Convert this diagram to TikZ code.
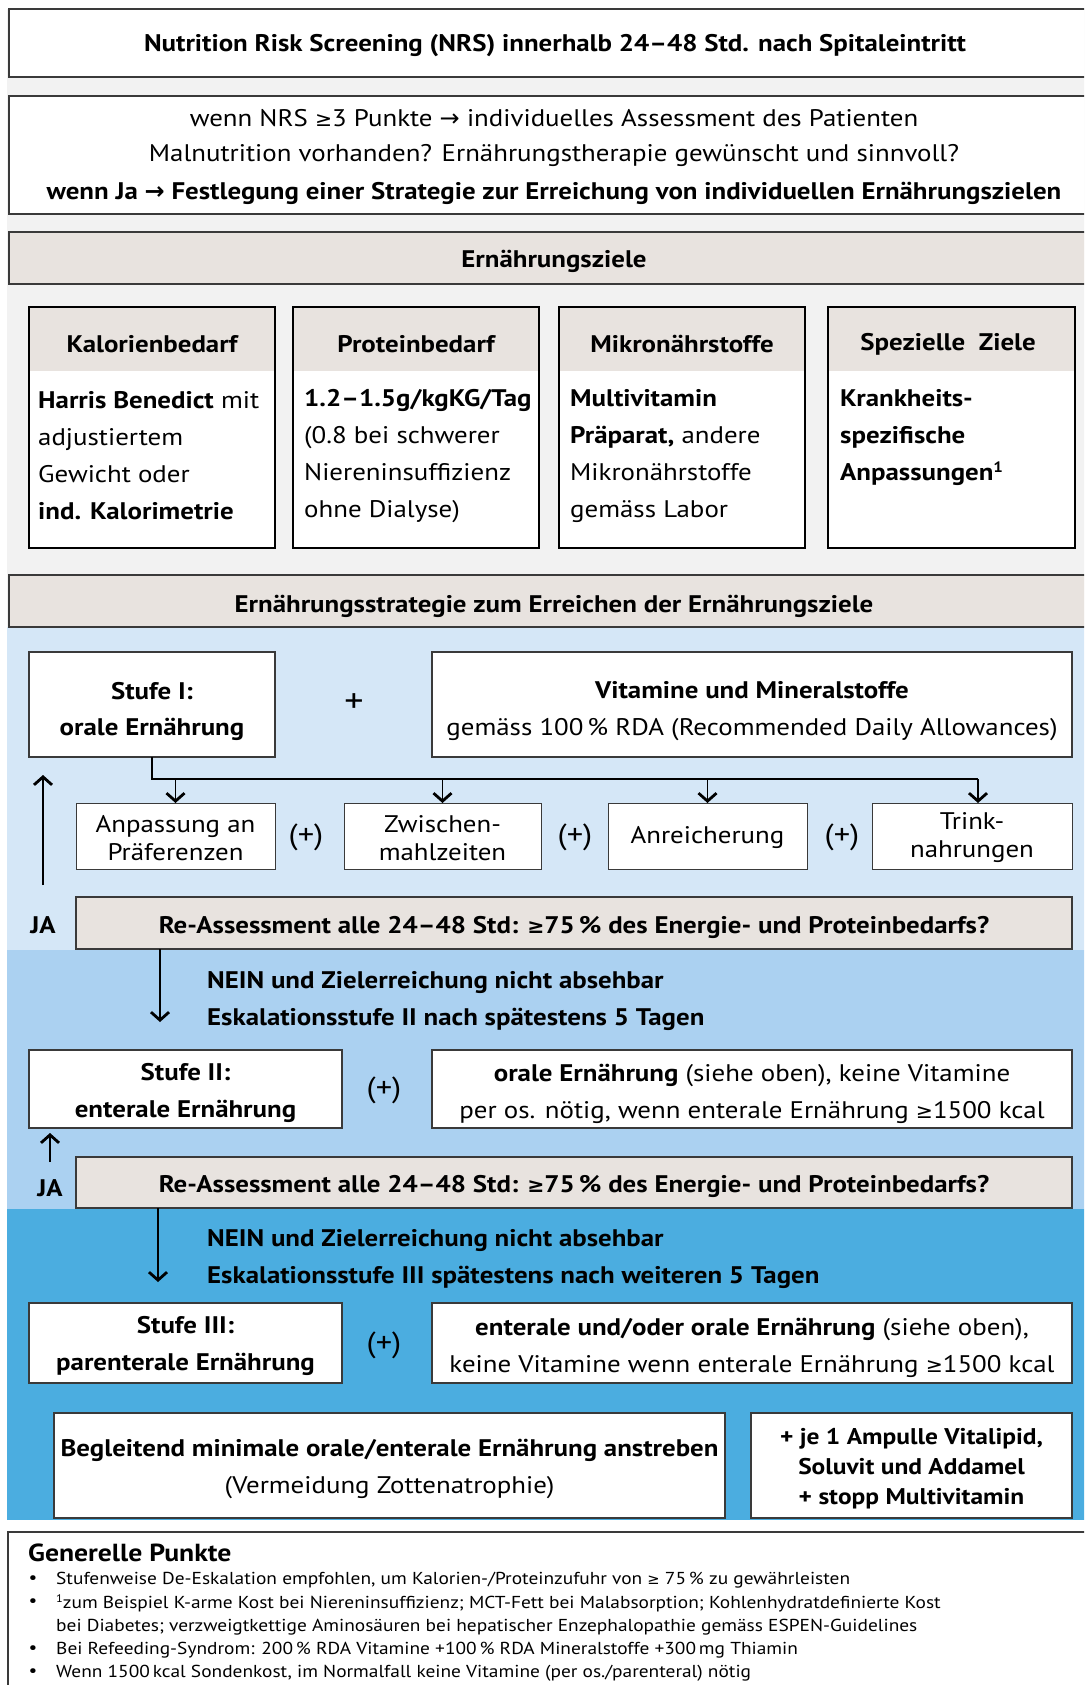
\documentclass[tikz,border=0pt]{standalone}
\usepackage{fontspec}
\setmainfont{PT Sans}[FakeStretch=1.12]
\newfontfamily\symf{DejaVu Sans}
\usetikzlibrary{arrows.meta,calc}
\definecolor{bg}{HTML}{F2F2F2}
\definecolor{hd}{HTML}{E8E3DF}
\definecolor{blA}{HTML}{D5E7F7}
\definecolor{blB}{HTML}{ABD1F1}
\definecolor{blC}{HTML}{4BADE0}
\definecolor{edge}{HTML}{3A3A3A}
\newcommand\mygeq{{\symf\fontsize{0.85em}{1em}\selectfont ≥}}
\newcommand\myarr{{\symf →}}
\newcommand\fm{\fontsize{24}{37}\selectfont}
\newcommand\fs{\fontsize{24}{28}\selectfont}
\newcommand\ff{\fontsize{17.3}{23}\selectfont}
\newcommand\fp{\fontsize{29}{30}\selectfont}
\newcommand\supone{\raisebox{8pt}{\fontsize{15}{15}\selectfont\bfseries 1}}
\newcommand\rbox[6][]{\node[anchor=north west, inner sep=0pt, outer sep=0pt,
  minimum width={(#5-#3)*1pt}, minimum height={(#6-#4)*1pt}, #1] (#2) at (#3,#4) {};}
\begin{document}
\begin{tikzpicture}[x=1pt,y=-1pt,
  bx/.style={draw=edge, line width=1.3pt, fill=white},
  hbx/.style={draw=edge, line width=1.3pt, fill=hd},
  gbx/.style={draw=black, line width=2.4pt, fill=white},
  sbx/.style={draw=edge, line width=1pt, fill=white},
  txt/.style={inner sep=0pt, font=\fm, align=center},
  ltxt/.style={inner sep=0pt, font=\fm, align=left, anchor=west},
  stxt/.style={inner sep=0pt, font=\fs, align=center},
  ftxt/.style={inner sep=0pt, font=\ff, align=left, anchor=west},
  arr/.style={line width=1.6pt, -{Straight Barb[length=8pt,width=18pt,line width=2.8pt]}}]
\useasboundingbox (0,0) rectangle (1084,1685);
\clip (0,0) rectangle (1084,1685);
% backgrounds
\fill[bg] (7,9) rectangle (1090,627);
\fill[blA] (7,627) rectangle (1090,950);
\fill[blB] (7,950) rectangle (1090,1209);
\fill[blC] (7,1209) rectangle (1090,1520);
% top
\rbox[bx]{top}{9}{9}{1095}{77}
\node[txt, font=\fm\bfseries] (topt) at (555,46) {Nutrition Risk Screening (NRS) innerhalb 24–48 Std. nach Spitaleintritt};
\rbox[bx]{nrs}{9}{96}{1095}{214}
\node[txt] (nrs1) at (554,118) {wenn NRS \mygeq3 Punkte \myarr\ individuelles Assessment des Patienten};
\node[txt] (nrs2) at (554,156) {Malnutrition vorhanden? Ernährungstherapie gewünscht und sinnvoll?};
\node[txt, font=\fm\bfseries] (nrs3) at (554,193) {wenn Ja {\symf\bfseries →} Festlegung einer Strategie zur Erreichung von individuellen Ernährungszielen};
\rbox[hbx]{zh}{9}{232}{1095}{284}
\node[txt, font=\fm\bfseries] (zht) at (554,261) {Ernährungsziele};
% goal boxes
\rbox[gbx]{g1}{29}{307}{275}{548}
\rbox[gbx]{g2}{293}{307}{539}{548}
\rbox[gbx]{g3}{559}{307}{805}{548}
\rbox[gbx]{g4}{828}{307}{1075}{548}
\foreach \a/\b in {29/275,293/539,559/805,828/1075}{
  \fill[hd] (\a+1.2,308.2) rectangle (\b-1.2,371);}
\node[txt, font=\fm\bfseries] (g1h) at (152,344) {Kalorienbedarf};
\node[txt, font=\fm\bfseries] (g2h) at (416,344) {Proteinbedarf};
\node[txt, font=\fm\bfseries] (g3h) at (682,344) {Mikronährstoffe};
\node[txt, font=\fm\bfseries] (g4h) at (948,344) {Spezielle\ \ Ziele};
\node[ltxt] (g1t) at (38,456) {\textbf{Harris Benedict} mit\\adjustiertem\\Gewicht oder\\\textbf{ind. Kalorimetrie}};
\node[ltxt] (g2t) at (304,456) {\textbf{1.2–1.5g/kgKG/Tag}\\(0.8 bei schwerer\\Niereninsuffizienz\\ohne Dialyse)};
\node[ltxt] (g3t) at (570,456) {\textbf{Multivitamin}\\\textbf{Präparat,} andere\\Mikronährstoffe\\gemäss Labor};
\node[ltxt] (g4t) at (840,438) {\textbf{Krankheits-}\\\textbf{spezifische}\\\textbf{Anpassungen}\supone};
% strategy
\rbox[hbx]{sh}{9}{575}{1095}{627}
\node[txt, font=\fm\bfseries] (sht) at (554,606) {Ernährungsstrategie zum Erreichen der Ernährungsziele};
\rbox[bx]{s1}{29}{652}{275}{757}
\node[txt, font=\fontsize{24}{36}\selectfont\bfseries] (s1t) at (152,711) {Stufe I:\\orale Ernährung};
\node[txt, font=\fontsize{34}{34}\selectfont] (p1) at (354,703) {+};
\rbox[bx]{vit}{432}{652}{1072}{757}
\node[txt, font=\fontsize{24}{37}\selectfont] (vitt) at (752,711) {\textbf{Vitamine und Mineralstoffe}\\gemäss 100\,\% RDA (Recommended Daily Allowances)};
% sub boxes
\rbox[sbx]{u1}{76}{803}{275}{869}
\rbox[sbx]{u2}{344}{803}{541}{869}
\rbox[sbx]{u3}{608}{803}{807}{869}
\rbox[sbx]{u4}{872}{803}{1072}{869}
\node[stxt] (u1t) at ($(u1)+(0,2)$) {Anpassung an\\Präferenzen};
\node[stxt] (u2t) at ($(u2)+(0,2)$) {Zwischen-\\mahlzeiten};
\node[stxt] (u3t) at ($(u3)+(0,2)$) {Anreicherung};
\node[stxt] (u4t) at ($(u4)+(0,2)$) {Trink-\\nahrungen};
\node[txt, font=\fp] (q1) at (306,837) {(+)};
\node[txt, font=\fp] (q2) at (575,837) {(+)};
\node[txt, font=\fp] (q3) at (842,837) {(+)};
\coordinate (busL) at (152,779);
\coordinate (busR) at (978,779);
\draw[line width=1.3pt] (s1.south-|busL) -- (busL) -- (busR);
\draw[arr] (u1.north|-busL) -- (u1.north);
\draw[arr] (u2.north|-busL) -- (u2.north);
\draw[arr] (u3.north|-busL) -- (u3.north);
\draw[arr] (busR) -- (busR|-u4.north);
% re-assessment 1
\rbox[hbx]{r1}{76}{897}{1072}{949}
\node[txt, font=\fm\bfseries] (r1t) at (574,927) {Re-Assessment alle 24–48 Std: \mygeq75\,\% des Energie- und Proteinbedarfs?};
\node[txt, font=\fm\bfseries] (ja1) at (43,925) {JA};
\coordinate (up1) at (43,775);
\draw[arr] (ja1.north|-r1.north) ++(0,-12) -- (up1);
% escalation II
\coordinate (d1) at (160,1022);
\draw[arr] (r1.south-|d1) -- (d1);
\node[ltxt, font=\fm\bfseries] (n1) at (207,1001) {NEIN und Zielerreichung nicht absehbar\\Eskalationsstufe II nach spätestens 5 Tagen};
\rbox[bx]{s2}{29}{1050}{342}{1128}
\node[txt, font=\fm\bfseries] (s2t) at ($(s2)+(0,4)$) {Stufe II:\\enterale Ernährung};
\node[txt, font=\fp] (p2) at (384,1090) {(+)};
\rbox[bx]{o2}{432}{1050}{1072}{1128}
\node[txt] (o2t) at (752,1094) {\textbf{orale Ernährung} (siehe oben), keine Vitamine\\per os. nötig, wenn enterale Ernährung \mygeq1500 kcal};
\rbox[hbx]{r2}{76}{1157}{1072}{1208}
\node[txt, font=\fm\bfseries] (r2t) at (574,1186) {Re-Assessment alle 24–48 Std: \mygeq75\,\% des Energie- und Proteinbedarfs?};
\node[txt, font=\fm\bfseries] (ja2) at (50,1188) {JA};
\coordinate (up2a) at (50,1162);
\coordinate (up2b) at (50,1133);
\draw[arr] (up2a) -- (up2b);
% escalation III
\coordinate (d2) at (158,1282);
\draw[arr] (r2.south-|d2) -- (d2);
\node[ltxt, font=\fm\bfseries] (n2) at (207,1259) {NEIN und Zielerreichung nicht absehbar\\Eskalationsstufe III spätestens nach weiteren 5 Tagen};
\rbox[bx]{s3}{29}{1303}{342}{1383}
\node[txt, font=\fm\bfseries] (s3t) at ($(s3)+(0,3)$) {Stufe III:\\parenterale Ernährung};
\node[txt, font=\fp] (p3) at (384,1345) {(+)};
\rbox[bx]{e3}{432}{1303}{1072}{1383}
\node[txt] (e3t) at (752,1348) {\textbf{enterale und/oder orale Ernährung} (siehe oben),\\keine Vitamine wenn enterale Ernährung \mygeq1500 kcal};
\rbox[bx]{bg3}{54}{1413}{725}{1518}
\node[txt] (bg3t) at ($(bg3)+(0,3)$) {\textbf{Begleitend minimale orale/enterale Ernährung anstreben}\\(Vermeidung Zottenatrophie)};
\rbox[bx]{am}{751}{1413}{1072}{1518}
\node[txt, font=\fontsize{22.7}{30}\selectfont\bfseries] (amt) at ($(am)+(0,3)$) {+ je 1 Ampulle Vitalipid,\\Soluvit und Addamel\\+ stopp Multivitamin};
% general points
\rbox[bx]{gp}{8}{1532}{1095}{1700}
\node[ltxt, font=\fontsize{24.7}{26}\selectfont\bfseries] (gpt) at (28,1553) {Generelle Punkte};
\foreach \yy [count=\i] in {1580,1603,1650,1673}{
  \node[inner sep=0pt, font=\ff] (bul\i) at (33,\yy) {•};}
\node[ftxt] (f1) at (56,1580) {Stufenweise De-Eskalation empfohlen, um Kalorien-/Proteinzufuhr von \mygeq\ 75\,\% zu gewährleisten};
\node[ftxt] (f2) at (56,1614.5) {{\raisebox{6pt}{\fontsize{11}{11}\selectfont 1}}zum Beispiel K-arme Kost bei Niereninsuffizienz; MCT-Fett bei Malabsorption; Kohlenhydratdefinierte Kost\\bei Diabetes; verzweigtkettige Aminosäuren bei hepatischer Enzephalopathie gemäss ESPEN-Guidelines};
\node[ftxt] (f3) at (56,1650) {Bei Refeeding-Syndrom: 200\,\% RDA Vitamine +100\,\% RDA Mineralstoffe +300\,mg Thiamin};
\node[ftxt] (f4) at (56,1673) {Wenn 1500\,kcal Sondenkost, im Normalfall keine Vitamine (per os./parenteral) nötig};
\end{tikzpicture}
\end{document}
